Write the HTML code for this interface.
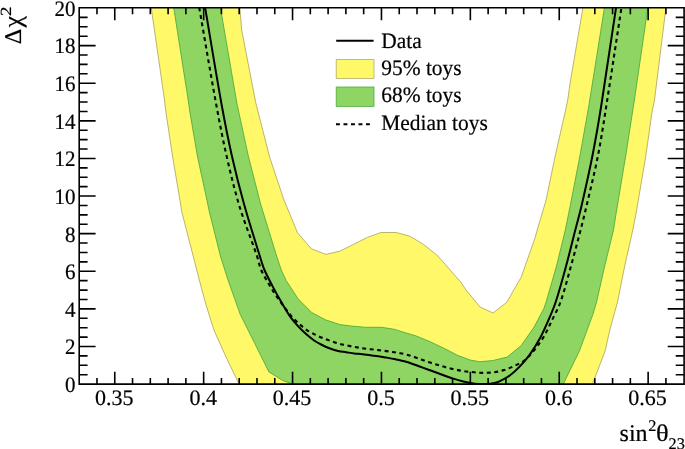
<!DOCTYPE html>
<html><head><meta charset="utf-8"><title>plot</title>
<style>html,body{margin:0;padding:0;background:#fff}svg{display:block;will-change:transform}text{text-rendering:geometricPrecision}text{font-family:"Liberation Serif",serif;fill:#000;stroke:#000;stroke-width:0.2px}</style></head><body>
<svg width="685" height="449" viewBox="0 0 685 449">
<rect width="685" height="449" fill="#fff"/>
<defs><clipPath id="c"><rect x="79.2" y="8.0" width="604.9" height="376.1"/></clipPath></defs>
<g clip-path="url(#c)">
<polygon points="147.2,-20.0 151.2,7.5 164.5,100.0 165.9,112.0 172.5,156.0 179.9,200.0 181.8,212.0 193.2,256.0 199.3,280.0 205.9,304.5 214.0,330.2 226.7,358.4 238.8,383.6 250.9,400.0 580.1,400.0 592.6,383.6 605.1,351.0 610.0,329.0 617.5,302.0 624.7,266.0 632.8,230.0 636.3,212.0 645.8,156.0 652.0,112.0 654.5,100.0 665.9,8.0 669.4,-20.0 587.7,-20.0 582.9,8.0 570.6,80.0 567.7,100.0 565.2,112.0 555.2,156.0 546.1,200.0 537.2,230.0 534.8,238.7 521.1,277.4 513.7,290.0 507.1,302.0 493.0,313.0 480.0,307.0 476.2,302.3 466.0,290.0 461.0,282.4 451.0,271.0 437.3,255.4 423.5,244.4 409.8,236.2 396.1,232.5 381.1,232.5 367.4,237.4 353.6,244.3 339.9,251.2 325.7,254.4 311.3,248.7 297.5,232.8 283.6,199.0 269.6,157.0 255.7,102.5 241.7,30.0 239.9,8.0 237.6,-20.0" fill="#fff869" stroke="#b5aa66" stroke-width="0.9" stroke-linejoin="round"/>
<polygon points="169.4,-20.0 173.7,7.5 188.2,100.0 189.9,112.0 197.4,156.0 206.9,200.0 209.4,212.0 220.4,256.0 228.0,280.0 240.2,314.3 254.9,343.7 268.9,371.9 282.9,380.6 292.5,383.9 302.1,400.0 547.4,400.0 563.4,383.8 579.4,351.0 592.9,314.3 596.6,302.0 604.7,266.0 613.5,230.0 616.3,212.0 625.7,156.0 632.5,112.0 634.4,100.0 647.8,8.0 651.9,-20.0 608.9,-20.0 604.4,8.0 588.8,106.0 579.9,156.0 570.2,206.0 565.3,230.0 556.5,266.0 546.1,302.0 544.1,308.0 534.1,327.1 521.1,345.7 507.1,357.1 493.0,360.5 479.9,361.8 470.3,360.1 457.4,355.3 444.6,348.6 430.1,341.7 416.5,336.1 402.8,332.0 394.4,329.3 381.5,327.3 365.5,327.3 351.8,326.1 339.9,324.6 325.5,319.8 311.8,312.6 298.2,298.9 286.1,280.4 281.3,270.0 276.6,256.0 260.6,204.0 248.3,156.0 237.0,104.0 220.4,7.5 215.7,-20.0" fill="#8ed563" stroke="#4fae3e" stroke-width="0.9" stroke-linejoin="round"/>
<path d="M200.43 -20.00C201.98 -10.83 203.54 -1.67 205.10 7.50C210.57 39.67 215.71 71.89 221.50 104.00C224.64 121.39 228.02 138.76 231.90 156.00C235.52 172.09 239.57 188.11 244.00 204.00C248.87 221.44 254.43 238.70 259.80 256.00C261.26 260.70 262.59 265.48 264.50 270.00C266.82 275.51 269.72 280.79 272.50 286.10C275.32 291.49 278.26 296.83 281.30 302.10C284.09 306.93 286.82 311.83 290.00 316.40C292.39 319.83 295.18 323.00 298.00 326.10C300.55 328.90 303.28 331.57 306.10 334.10C308.64 336.37 311.29 338.58 314.10 340.50C316.62 342.22 319.37 343.63 322.10 345.00C324.70 346.30 327.38 347.49 330.10 348.50C332.74 349.49 335.45 350.37 338.20 351.00C340.82 351.60 343.53 351.80 346.20 352.20C348.87 352.60 351.52 353.07 354.20 353.40C356.89 353.73 359.61 353.88 362.30 354.20C364.97 354.52 367.63 354.95 370.30 355.30C372.96 355.65 375.64 355.92 378.30 356.30C381.01 356.69 383.70 357.15 386.40 357.60C389.07 358.05 391.75 358.47 394.40 359.00C396.28 359.37 398.14 359.85 400.00 360.30C402.04 360.79 404.09 361.20 406.10 361.80C408.79 362.60 411.44 363.57 414.10 364.50C416.78 365.44 419.43 366.43 422.10 367.40C424.77 368.37 427.44 369.32 430.10 370.30C432.80 371.29 435.50 372.31 438.20 373.30C440.86 374.28 443.52 375.26 446.20 376.20C448.86 377.13 451.51 378.07 454.20 378.90C456.88 379.73 459.58 380.51 462.30 381.20C464.95 381.87 467.61 382.51 470.30 383.00C472.95 383.48 475.62 383.92 478.30 384.10C480.99 384.28 483.71 384.28 486.40 384.10C489.08 383.92 491.78 383.58 494.40 383.00C496.32 382.58 498.24 381.97 500.00 381.10C503.48 379.37 506.99 377.52 510.10 375.20C513.69 372.52 517.01 369.36 520.10 366.10C523.67 362.33 527.08 358.33 530.10 354.10C533.75 348.99 537.10 343.62 540.10 338.10C543.10 332.58 545.60 326.77 548.10 321.00C550.80 314.74 553.58 308.48 555.70 302.00C559.58 290.14 562.82 278.05 566.10 266.00C569.35 254.05 572.22 242.00 575.30 230.00C577.35 222.00 579.64 214.05 581.50 206.00C585.34 189.38 589.10 172.73 592.40 156.00C595.67 139.40 598.54 122.71 601.20 106.00C606.40 73.38 611.07 40.67 616.00 8.00C617.41 -1.33 618.82 -10.67 620.23 -20.00" fill="none" stroke="#000" stroke-width="2.0" stroke-linejoin="round"/>
<path d="M194.37 -20.00C195.98 -10.83 197.59 -1.67 199.20 7.50C204.97 40.33 210.45 73.22 216.50 106.00C219.59 122.72 222.81 139.43 226.60 156.00C230.44 172.76 234.40 189.56 239.40 206.00C244.53 222.89 251.30 239.28 257.00 256.00C258.57 260.61 259.27 265.56 261.20 270.00C263.63 275.59 266.99 280.82 270.10 286.10C272.35 289.92 274.75 293.67 277.30 297.30C281.39 303.13 285.52 308.98 290.00 314.50C292.42 317.48 295.20 320.17 298.00 322.80C300.57 325.21 303.23 327.58 306.10 329.60C308.59 331.35 311.38 332.71 314.10 334.10C316.71 335.44 319.39 336.67 322.10 337.80C324.73 338.90 327.41 339.86 330.10 340.80C332.78 341.73 335.47 342.64 338.20 343.40C340.84 344.14 343.52 344.71 346.20 345.30C348.86 345.88 351.52 346.42 354.20 346.90C356.89 347.38 359.59 347.81 362.30 348.20C364.96 348.58 367.63 348.88 370.30 349.20C372.96 349.52 375.64 349.79 378.30 350.10C381.00 350.42 383.70 350.73 386.40 351.10C389.07 351.47 391.74 351.89 394.40 352.30C396.27 352.59 398.14 352.85 400.00 353.20C402.04 353.58 404.09 353.97 406.10 354.50C408.79 355.21 411.46 356.02 414.10 356.90C416.79 357.79 419.43 358.85 422.10 359.80C424.76 360.75 427.41 361.73 430.10 362.60C432.78 363.47 435.50 364.20 438.20 365.00C440.87 365.80 443.51 366.68 446.20 367.40C448.85 368.11 451.52 368.72 454.20 369.30C456.89 369.88 459.58 370.46 462.30 370.90C464.95 371.33 467.63 371.60 470.30 371.90C472.96 372.20 475.63 372.55 478.30 372.70C480.99 372.85 483.70 372.87 486.40 372.80C489.07 372.73 491.77 372.70 494.40 372.30C497.63 371.80 500.89 371.13 504.00 370.10C508.13 368.73 512.16 366.97 516.10 365.10C519.20 363.63 522.51 362.28 525.10 360.10C528.84 356.95 532.03 352.98 535.10 349.10C538.36 344.98 541.45 340.64 544.10 336.10C547.12 330.94 549.50 325.40 552.10 320.00C554.97 314.03 558.32 308.23 560.50 302.00C564.62 290.23 567.64 278.04 571.00 266.00C574.34 254.04 577.49 242.02 580.60 230.00C582.66 222.02 584.62 214.02 586.50 206.00C590.39 189.35 594.58 172.76 597.90 156.00C601.18 139.43 603.65 122.69 606.30 106.00C611.48 73.36 616.37 40.67 621.40 8.00C622.84 -1.33 624.28 -10.67 625.71 -20.00" fill="none" stroke="#000" stroke-width="2.1" stroke-dasharray="3.9 3.6" stroke-dashoffset="2" stroke-linejoin="round"/>
</g>
<path d="M79.2 7.8H684.1V384.1H79.2ZM96.98 384.1v-6.2M96.98 8.0v6.2M114.76 384.1v-12.3M114.76 8.0v12.3M132.54 384.1v-6.2M132.54 8.0v6.2M150.32 384.1v-6.2M150.32 8.0v6.2M168.10 384.1v-6.2M168.10 8.0v6.2M185.88 384.1v-6.2M185.88 8.0v6.2M203.66 384.1v-12.3M203.66 8.0v12.3M221.44 384.1v-6.2M221.44 8.0v6.2M239.21 384.1v-6.2M239.21 8.0v6.2M256.99 384.1v-6.2M256.99 8.0v6.2M274.77 384.1v-6.2M274.77 8.0v6.2M292.55 384.1v-12.3M292.55 8.0v12.3M310.33 384.1v-6.2M310.33 8.0v6.2M328.11 384.1v-6.2M328.11 8.0v6.2M345.89 384.1v-6.2M345.89 8.0v6.2M363.67 384.1v-6.2M363.67 8.0v6.2M381.45 384.1v-12.3M381.45 8.0v12.3M399.23 384.1v-6.2M399.23 8.0v6.2M417.01 384.1v-6.2M417.01 8.0v6.2M434.79 384.1v-6.2M434.79 8.0v6.2M452.57 384.1v-6.2M452.57 8.0v6.2M470.35 384.1v-12.3M470.35 8.0v12.3M488.13 384.1v-6.2M488.13 8.0v6.2M505.91 384.1v-6.2M505.91 8.0v6.2M523.69 384.1v-6.2M523.69 8.0v6.2M541.46 384.1v-6.2M541.46 8.0v6.2M559.24 384.1v-12.3M559.24 8.0v12.3M577.02 384.1v-6.2M577.02 8.0v6.2M594.80 384.1v-6.2M594.80 8.0v6.2M612.58 384.1v-6.2M612.58 8.0v6.2M630.36 384.1v-6.2M630.36 8.0v6.2M648.14 384.1v-12.3M648.14 8.0v12.3M665.92 384.1v-6.2M665.92 8.0v6.2M79.2 374.70h8.4M684.1 374.70h-8.4M79.2 365.30h8.4M684.1 365.30h-8.4M79.2 355.89h8.4M684.1 355.89h-8.4M79.2 346.49h16.4M684.1 346.49h-16.4M79.2 337.09h8.4M684.1 337.09h-8.4M79.2 327.69h8.4M684.1 327.69h-8.4M79.2 318.28h8.4M684.1 318.28h-8.4M79.2 308.88h16.4M684.1 308.88h-16.4M79.2 299.48h8.4M684.1 299.48h-8.4M79.2 290.08h8.4M684.1 290.08h-8.4M79.2 280.67h8.4M684.1 280.67h-8.4M79.2 271.27h16.4M684.1 271.27h-16.4M79.2 261.87h8.4M684.1 261.87h-8.4M79.2 252.47h8.4M684.1 252.47h-8.4M79.2 243.06h8.4M684.1 243.06h-8.4M79.2 233.66h16.4M684.1 233.66h-16.4M79.2 224.26h8.4M684.1 224.26h-8.4M79.2 214.86h8.4M684.1 214.86h-8.4M79.2 205.45h8.4M684.1 205.45h-8.4M79.2 196.05h16.4M684.1 196.05h-16.4M79.2 186.65h8.4M684.1 186.65h-8.4M79.2 177.25h8.4M684.1 177.25h-8.4M79.2 167.84h8.4M684.1 167.84h-8.4M79.2 158.44h16.4M684.1 158.44h-16.4M79.2 149.04h8.4M684.1 149.04h-8.4M79.2 139.64h8.4M684.1 139.64h-8.4M79.2 130.23h8.4M684.1 130.23h-8.4M79.2 120.83h16.4M684.1 120.83h-16.4M79.2 111.43h8.4M684.1 111.43h-8.4M79.2 102.03h8.4M684.1 102.03h-8.4M79.2 92.62h8.4M684.1 92.62h-8.4M79.2 83.22h16.4M684.1 83.22h-16.4M79.2 73.82h8.4M684.1 73.82h-8.4M79.2 64.41h8.4M684.1 64.41h-8.4M79.2 55.01h8.4M684.1 55.01h-8.4M79.2 45.61h16.4M684.1 45.61h-16.4M79.2 36.21h8.4M684.1 36.21h-8.4M79.2 26.81h8.4M684.1 26.81h-8.4M79.2 17.40h8.4M684.1 17.40h-8.4" fill="none" stroke="#000" stroke-width="1.6" stroke-linecap="butt" stroke-linejoin="miter"/>
<text x="114.3" y="405.4" font-size="22.0" text-anchor="middle" letter-spacing="0">0.35</text>
<text x="203.2" y="405.4" font-size="22.0" text-anchor="middle" letter-spacing="0">0.4</text>
<text x="292.1" y="405.4" font-size="22.0" text-anchor="middle" letter-spacing="0">0.45</text>
<text x="380.9" y="405.4" font-size="22.0" text-anchor="middle" letter-spacing="0">0.5</text>
<text x="469.8" y="405.4" font-size="22.0" text-anchor="middle" letter-spacing="0">0.55</text>
<text x="558.7" y="405.4" font-size="22.0" text-anchor="middle" letter-spacing="0">0.6</text>
<text x="647.6" y="405.4" font-size="22.0" text-anchor="middle" letter-spacing="0">0.65</text>
<text transform="translate(75.6,391.9) scale(0.955,1)" font-size="22.0" text-anchor="end">0</text>
<text transform="translate(75.6,354.3) scale(0.955,1)" font-size="22.0" text-anchor="end">2</text>
<text transform="translate(75.6,316.7) scale(0.955,1)" font-size="22.0" text-anchor="end">4</text>
<text transform="translate(75.6,279.1) scale(0.955,1)" font-size="22.0" text-anchor="end">6</text>
<text transform="translate(75.6,241.5) scale(0.955,1)" font-size="22.0" text-anchor="end">8</text>
<text transform="translate(75.6,203.9) scale(0.955,1)" font-size="22.0" text-anchor="end">10</text>
<text transform="translate(75.6,166.2) scale(0.955,1)" font-size="22.0" text-anchor="end">12</text>
<text transform="translate(75.6,128.6) scale(0.955,1)" font-size="22.0" text-anchor="end">14</text>
<text transform="translate(75.6,91.0) scale(0.955,1)" font-size="22.0" text-anchor="end">16</text>
<text transform="translate(75.6,53.4) scale(0.955,1)" font-size="22.0" text-anchor="end">18</text>
<text transform="translate(75.6,15.8) scale(0.955,1)" font-size="22.0" text-anchor="end">20</text>
<text x="619.6" y="441.2" font-size="24">sin</text>
<text x="648.2" y="431.2" font-size="16.3">2</text>
<text transform="translate(655.9,441.2) scale(1.1,1)" font-size="24">θ</text>
<text x="668.6" y="448.6" font-size="16.3">23</text>
<g transform="translate(21.3,44.3) rotate(-90)"><text x="0" y="0" font-size="24">Δ</text><text x="16.7" y="0" font-size="26">χ</text><text transform="translate(28.2,-10.7) scale(1.22,1)" font-size="15.5">2</text></g>
<line x1="336.2" x2="373.6" y1="40.8" y2="40.8" stroke="#000" stroke-width="2"/>
<rect x="336.2" y="59.6" width="37.8" height="18.8" fill="#fff869" stroke="#b5aa66" stroke-width="0.8"/>
<rect x="336.2" y="87" width="37.8" height="19.4" fill="#8ed563" stroke="#4fae3e" stroke-width="0.8"/>
<line x1="336" x2="370.2" y1="124.2" y2="124.2" stroke="#000" stroke-width="2.1" stroke-dasharray="3.9 3.6"/>
<text transform="translate(381.2,47.6) scale(0.975,1)" font-size="22.0">Data</text>
<text transform="translate(381.2,75.1) scale(0.975,1)" font-size="22.0">95% toys</text>
<text transform="translate(381.2,102.3) scale(0.975,1)" font-size="22.0">68% toys</text>
<text transform="translate(381.2,129.9) scale(0.975,1)" font-size="22.0">Median toys</text>
</svg></body></html>
